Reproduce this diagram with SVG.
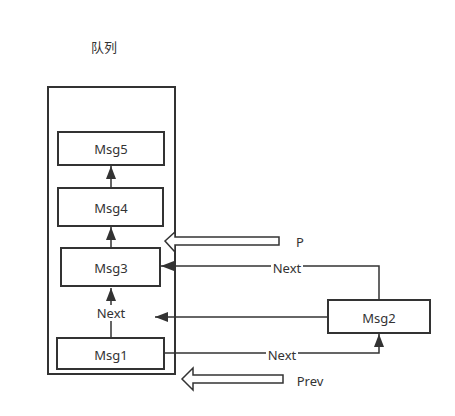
<svg xmlns="http://www.w3.org/2000/svg" width="455" height="416" viewBox="0 0 455 416">
<style>
.box{fill:#fff;stroke:#333;stroke-width:2}
.ln{fill:none;stroke:#333;stroke-width:1.5}
.blk{fill:#fff;stroke:#333;stroke-width:1.5}
text{font-family:"Noto Sans","Noto Sans CJK SC",sans-serif;font-size:13px;fill:#333}
.lbl{text-anchor:middle;dominant-baseline:central}
.bg{fill:#fff;stroke:none}
</style>
<defs>
<marker id="ahv" viewBox="0 0 13 10" refX="13" refY="5" markerWidth="13" markerHeight="10" markerUnits="userSpaceOnUse" orient="auto">
<path d="M0,0 L13,5 L0,10 z" fill="#333"/>
</marker>
</defs>
<g id="title"><text x="104" y="47" class="lbl">队列</text></g>
<g id="queue"><rect x="48" y="87" width="127" height="287" fill="none" stroke="#333" stroke-width="2"/></g>
<g id="connectors">
<path class="ln" d="M111,188 V166" marker-end="url(#ahv)"/>
<path class="ln" d="M111,248 V227" marker-end="url(#ahv)"/>
<path class="ln" d="M111,338 V288" marker-end="url(#ahv)"/>
<rect class="bg" x="94" y="305" width="34" height="16"/>
<text x="111" y="313" class="lbl">Next</text>
<path class="ln" d="M328,317 H155" marker-end="url(#ahv)"/>
<path class="ln" d="M379,300 V266 H161" marker-end="url(#ahv)"/>
<rect class="bg" x="271" y="260" width="32" height="15"/>
<text x="287" y="268" class="lbl">Next</text>
<path class="ln" d="M164,353 H379 V334" marker-end="url(#ahv)"/>
<rect class="bg" x="266" y="347" width="32" height="15"/>
<text x="282" y="355" class="lbl">Next</text>
</g>
<g id="pointerP">
<path class="blk" d="M279,237 V245 H175 V252 L165,241 L175,232 V237 Z"/>
<text x="300" y="242" class="lbl">P</text>
</g>
<g id="pointerPrev">
<path class="blk" d="M283,375 V383 H193 V390 L182,379 L193,368 V375 Z"/>
<text x="310" y="381" class="lbl">Prev</text>
</g>
<g id="msg5"><rect class="box" x="58" y="132" width="106" height="33"/><text x="111" y="149" class="lbl">Msg5</text></g>
<g id="msg4"><rect class="box" x="58" y="188" width="105" height="38"/><text x="111" y="208" class="lbl">Msg4</text></g>
<g id="msg3"><rect class="box" x="61" y="248" width="99" height="38"/><text x="111" y="268" class="lbl">Msg3</text></g>
<g id="msg1"><rect class="box" x="57" y="338" width="107" height="31"/><text x="111" y="355" class="lbl">Msg1</text></g>
<g id="msg2"><rect class="box" x="328" y="300" width="102" height="33"/><text x="379" y="318" class="lbl">Msg2</text></g>
</svg>
